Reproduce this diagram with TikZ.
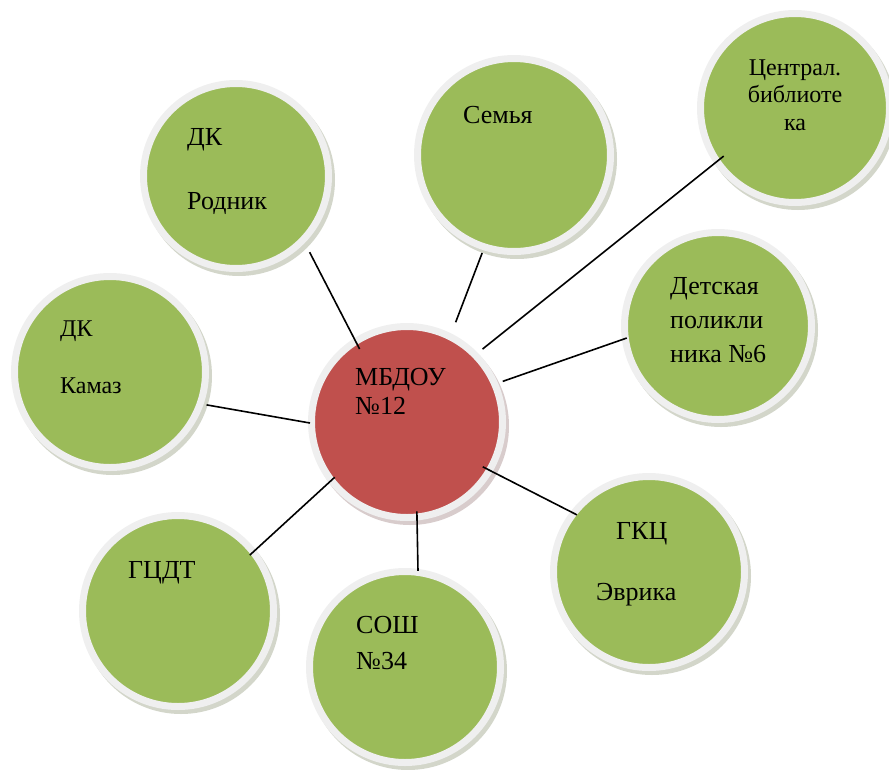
\documentclass[tikz,border=0pt]{standalone}
\usepackage{fontspec}
\setmainfont{Liberation Serif}
\usetikzlibrary{calc}
\definecolor{greenc}{HTML}{9BBB59}
\definecolor{redc}{HTML}{C0504D}
\definecolor{rimc}{HTML}{EFEFEF}
\definecolor{shadg}{HTML}{D3D6CA}
\definecolor{shadr}{HTML}{D8CCCC}
\tikzset{
  bub/.style={circle, draw=rimc, line width=7pt, fill=greenc, inner sep=0pt},
  hub/.style={bub, fill=redc},
  link/.style={draw=black, line width=1.6pt},
  lbl/.style={anchor=base west, inner sep=0pt, align=left, font=\fontsize{26}{29}\selectfont},
}
\begin{document}
\begin{tikzpicture}[x=1pt,y=1pt]
\useasboundingbox (0,0) rectangle (889,-769);
% shadows
\fill[shadg] (239,-180) circle[radius=96];
\fill[shadg] (517,-159) circle[radius=100];
\fill[shadg] (798,-112) circle[radius=98];
\fill[shadg] (721,-330) circle[radius=97];
\fill[shadg] (113,-376) circle[radius=99];
\fill[shadg] (181,-615) circle[radius=99];
\fill[shadg] (408,-671) circle[radius=99];
\fill[shadg] (652,-576) circle[radius=99];
\fill[shadr] (410,-426) circle[radius=99];
% bubbles
\node[bub, minimum size=185pt] (rodnik) at (236,-176) {};
\node[bub, minimum size=193pt] (semya) at (514,-155) {};
\node[bub, minimum size=189pt] (biblio) at (795,-108) {};
\node[bub, minimum size=187pt] (polikl) at (718,-326) {};
\node[bub, minimum size=191pt] (kamaz) at (110,-372) {};
\node[bub, minimum size=191pt] (gcdt) at (178,-611) {};
\node[bub, minimum size=191pt] (sosh) at (405,-667) {};
\node[bub, minimum size=191pt] (gkc) at (649,-572) {};
\node[hub, minimum size=191pt] (hub) at (407,-422) {};
% connectors
\draw[link] ($(hub.center)+(123:87)$) -- ($(rodnik.center)+(-46:106)$);
\draw[link] ($(hub.center)+(64:111)$) -- ($(semya.center)+(252:103)$);
\draw[link] ($(hub.center)+(44:105)$) -- ($(biblio.center)+(214:86)$);
\draw[link] ($(hub.center)+(23:104)$) -- ($(polikl.center)+(187.5:92)$);
\draw[link] ($(hub.center)+(180.6:97)$) -- ($(kamaz.center)+(-18.8:102)$);
\draw[link] ($(hub.center)+(-142.6:91)$) -- ($(gcdt.center)+(37.9:91)$);
\draw[link] ($(hub.center)+(-83.7:90)$) -- ($(sosh.center)+(82.3:97)$);
\draw[link] ($(hub.center)+(-30.6:88)$) -- ($(gkc.center)+(141.6:92)$);
% labels (multi-line nodes: base anchor is the last line's baseline)
\node[lbl] (thub) at (355,-414) {МБДОУ\\№12};
\node[lbl, anchor=base, align=center, font=\fontsize{24}{27.5}\selectfont] (tbiblio) at (795,-130) {Централ.\\библиоте\\ка};
\node[lbl, font=\fontsize{26}{64}\selectfont] (trodnik) at (187,-209) {ДК\\Родник};
\node[lbl, font=\fontsize{24}{57}\selectfont] (tkamaz) at (60,-393) {ДК\\Камаз};
\node[lbl] (tsemya) at (463,-123) {Семья};
\node[lbl, font=\fontsize{26}{34}\selectfont] (tpolikl) at (670,-362) {Детская\\поликли\\ника №6};
\node[lbl] (tgcdt) at (128,-578) {ГЦДТ};
\node[lbl, font=\fontsize{26}{36}\selectfont] (tsosh) at (356,-669) {СОШ\\№34};
\node[lbl] (tgkc) at (616,-539) {ГКЦ};
\node[lbl] (tevrika) at (596,-600) {Эврика};
\end{tikzpicture}
\end{document}
